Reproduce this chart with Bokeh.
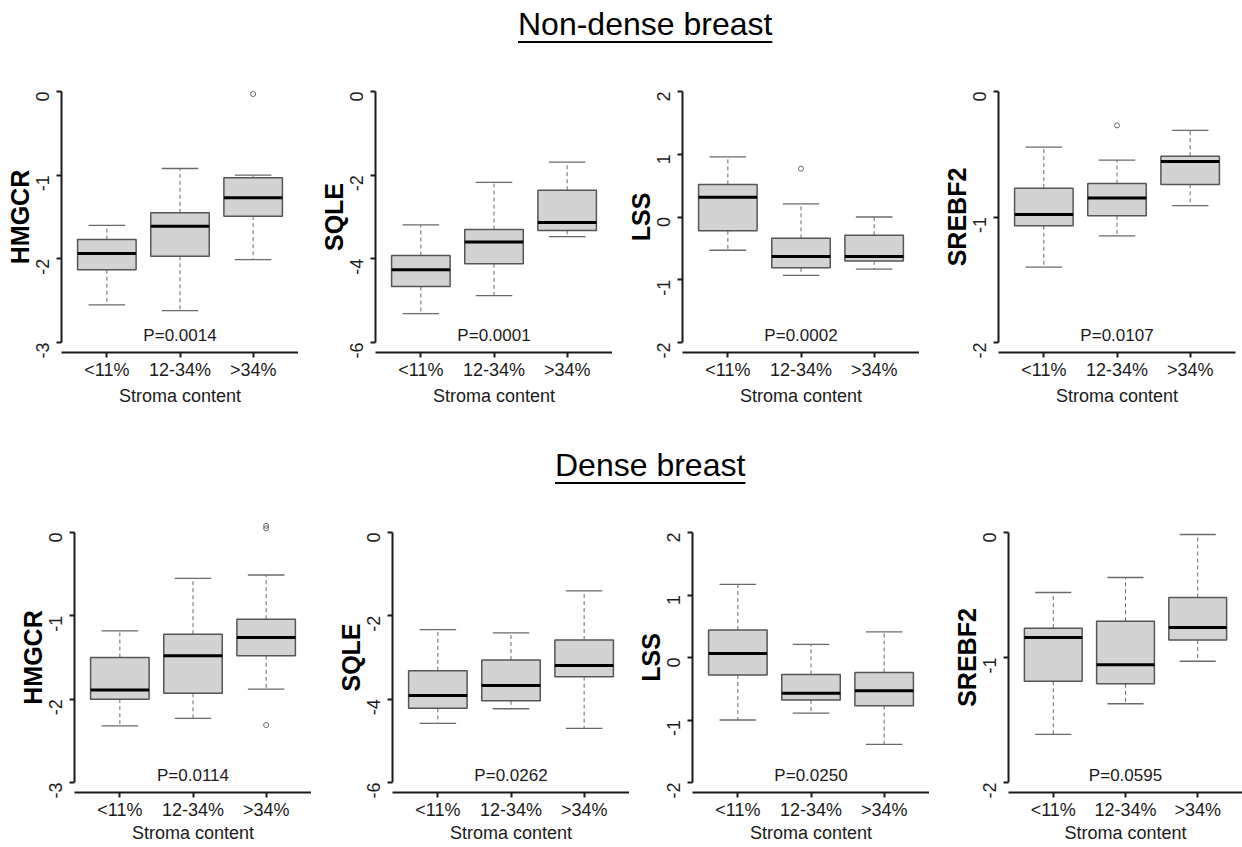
import math
from bokeh.plotting import figure
from bokeh.models import Range1d, FixedTicker, Div
from bokeh.layouts import row, column
from bokeh.embed import file_html
from bokeh.resources import INLINE
from bokeh.core.properties import value

# ---------------- data ----------------
categories = ["<11%", "12-34%", ">34%"]
genes = ["HMGCR", "SQLE", "LSS", "SREBF2"]
titles = ["Non-dense breast", "Dense breast"]
x_label = "Stroma content"

# y-axis ticks per gene
yticks_hmgcr = [-3, -2, -1, 0]
yticks_sqle = [-6, -4, -2, 0]
yticks_lss = [-2, -1, 0, 1, 2]
yticks_srebf2 = [-2, -1, 0]

# box statistics per category: [lower whisker, Q1, median, Q3, upper whisker]
nd_hmgcr_box = [[-2.55, -2.13, -1.935, -1.77, -1.60],
                [-2.62, -1.97, -1.61, -1.45, -0.92],
                [-2.01, -1.49, -1.27, -1.03, -1.00]]
nd_hmgcr_out_cat = [">34%"]
nd_hmgcr_out_val = [-0.03]

nd_sqle_box = [[-5.31, -4.66, -4.26, -3.92, -3.19],
               [-4.88, -4.12, -3.60, -3.30, -2.17],
               [-3.47, -3.32, -3.13, -2.36, -1.69]]
nd_sqle_out_cat = []
nd_sqle_out_val = []

nd_lss_box = [[-0.53, -0.22, 0.315, 0.52, 0.96],
              [-0.93, -0.81, -0.63, -0.34, 0.21],
              [-0.83, -0.70, -0.63, -0.29, 0.00]]
nd_lss_out_cat = ["12-34%"]
nd_lss_out_val = [0.77]

nd_srebf2_box = [[-1.40, -1.07, -0.98, -0.77, -0.443],
                 [-1.15, -0.99, -0.848, -0.733, -0.547],
                 [-0.91, -0.74, -0.557, -0.515, -0.31]]
nd_srebf2_out_cat = ["12-34%"]
nd_srebf2_out_val = [-0.27]

d_hmgcr_box = [[-2.32, -2.00, -1.89, -1.50, -1.18],
               [-2.23, -1.93, -1.48, -1.22, -0.55],
               [-1.88, -1.48, -1.26, -1.04, -0.51]]
d_hmgcr_out_cat = [">34%", ">34%", ">34%"]
d_hmgcr_out_val = [0.08, 0.05, -2.31]

d_sqle_box = [[-4.58, -4.22, -3.91, -3.32, -2.33],
              [-4.23, -4.04, -3.67, -3.06, -2.41],
              [-4.70, -3.46, -3.19, -2.58, -1.40]]
d_sqle_out_cat = []
d_sqle_out_val = []

d_lss_box = [[-1.00, -0.28, 0.064, 0.44, 1.17],
             [-0.89, -0.68, -0.57, -0.27, 0.21],
             [-1.39, -0.77, -0.53, -0.24, 0.41]]
d_lss_out_cat = []
d_lss_out_val = []

d_srebf2_box = [[-1.615, -1.19, -0.84, -0.765, -0.48],
                [-1.37, -1.21, -1.057, -0.71, -0.36],
                [-1.03, -0.86, -0.76, -0.52, -0.016]]
d_srebf2_out_cat = []
d_srebf2_out_val = []

nd_pvals = ["0.0014", "0.0001", "0.0002", "0.0107"]
d_pvals = ["0.0114", "0.0262", "0.0250", "0.0595"]

# ---------------- styling ----------------
FONT = "Liberation Sans"
BOX_FILL = "#D3D3D3"
BOX_LINE = "#555555"
WHISK = "#6A6A6A"
AXIS = "#1A1A1A"


def make_panel(gene, box, out_cat, out_val, yticks, pval,
               frame_w, frame_h, left, right, top, bottom, xlab_standoff):
    n = len(categories)
    xs = list(range(1, n + 1))
    lo, hi = min(yticks), max(yticks)
    span = hi - lo
    p = figure(frame_width=frame_w, frame_height=frame_h,
               min_border_left=left, min_border_right=right,
               min_border_top=top, min_border_bottom=bottom,
               x_range=Range1d(0.5 - 0.04 * n, n + 0.5 + 0.04 * n),
               y_range=Range1d(lo - 0.04 * span, hi + 0.04 * span),
               output_backend="svg", toolbar_location=None)
    p.outline_line_color = None
    p.xgrid.visible = False
    p.ygrid.visible = False
    p.background_fill_color = "white"
    p.border_fill_color = "white"

    lw = [b[0] for b in box]
    q1 = [b[1] for b in box]
    md = [b[2] for b in box]
    q3 = [b[3] for b in box]
    uw = [b[4] for b in box]
    hb = 0.4
    hc = 0.25

    # whiskers
    p.segment(x0=xs, x1=xs, y0=q3, y1=uw, line_color=WHISK, line_width=1, line_dash="4 3")
    p.segment(x0=xs, x1=xs, y0=q1, y1=lw, line_color=WHISK, line_width=1, line_dash="4 3")
    p.segment(x0=[x - hc for x in xs], x1=[x + hc for x in xs], y0=uw, y1=uw,
              line_color=WHISK, line_width=1.3)
    p.segment(x0=[x - hc for x in xs], x1=[x + hc for x in xs], y0=lw, y1=lw,
              line_color=WHISK, line_width=1.3)
    # boxes
    p.quad(left=[x - hb for x in xs], right=[x + hb for x in xs], bottom=q1, top=q3,
           fill_color=BOX_FILL, line_color=BOX_LINE, line_width=1.5)
    # medians
    p.segment(x0=[x - hb for x in xs], x1=[x + hb for x in xs], y0=md, y1=md,
              line_color="black", line_width=3)
    # outliers
    if out_val:
        ox = [categories.index(c) + 1 for c in out_cat]
        p.scatter(x=ox, y=out_val, marker="circle", size=5, fill_color=None,
                  line_color=WHISK, line_width=1)
    # p-value
    p.text(x=[(n + 1) / 2], y=[lo + 0.028 * span], text=["P=" + pval],
           text_align="center", text_baseline="middle", text_font=value(FONT),
           text_font_size="17px", text_color="#1A1A1A")

    # x axis
    xa = p.xaxis[0]
    xa.ticker = FixedTicker(ticks=xs)
    xa.major_label_overrides = {x: c for x, c in zip(xs, categories)}
    xa.axis_label = x_label
    xa.axis_label_text_font = FONT
    xa.axis_label_text_font_size = "18px"
    xa.axis_label_text_font_style = "normal"
    xa.axis_label_text_color = "#1A1A1A"
    xa.axis_label_standoff = xlab_standoff
    xa.major_label_text_font = FONT
    xa.major_label_text_font_size = "18px"
    xa.major_label_text_color = "#1A1A1A"
    xa.major_label_standoff = 2

    # y axis
    ya = p.yaxis[0]
    ya.ticker = FixedTicker(ticks=yticks)
    ya.bounds = (lo, hi)
    ya.major_label_overrides = {t: str(t) for t in yticks}
    ya.major_label_orientation = math.pi / 2
    ya.major_label_text_font = FONT
    ya.major_label_text_font_size = "18px"
    ya.major_label_text_color = "#1A1A1A"
    ya.major_label_standoff = 14
    ya.axis_label = gene
    ya.axis_label_text_font = FONT
    ya.axis_label_text_font_size = "25px"
    ya.axis_label_text_font_style = "bold"
    ya.axis_label_text_color = "black"
    ya.axis_label_standoff = -7

    for ax in (xa, ya):
        ax.axis_line_width = 2
        ax.axis_line_color = AXIS
        ax.major_tick_line_width = 2
        ax.major_tick_line_color = AXIS
        ax.major_tick_out = 5
        ax.major_tick_in = 0
        ax.minor_tick_line_color = None
    return p


def title_div(text, height, pad_top, pad_left):
    html = ('<div style="margin:0;padding-top:%dpx;padding-left:%dpx;'
            'font-family:\'Liberation Sans\',Arial,sans-serif;font-size:32px;'
            'line-height:36px;white-space:nowrap;color:#000;">'
            '<span style="text-decoration:underline;text-underline-offset:6px;'
            'text-decoration-thickness:2px;">%s</span></div>') % (pad_top, pad_left, text)
    return Div(text=html, width=1242, height=height, margin=(0, 0, 0, 0))


nd_sets = [
    (nd_hmgcr_box, nd_hmgcr_out_cat, nd_hmgcr_out_val, yticks_hmgcr),
    (nd_sqle_box, nd_sqle_out_cat, nd_sqle_out_val, yticks_sqle),
    (nd_lss_box, nd_lss_out_cat, nd_lss_out_val, yticks_lss),
    (nd_srebf2_box, nd_srebf2_out_cat, nd_srebf2_out_val, yticks_srebf2),
]
d_sets = [
    (d_hmgcr_box, d_hmgcr_out_cat, d_hmgcr_out_val, yticks_hmgcr),
    (d_sqle_box, d_sqle_out_cat, d_sqle_out_val, yticks_sqle),
    (d_lss_box, d_lss_out_cat, d_lss_out_val, yticks_lss),
    (d_srebf2_box, d_srebf2_out_cat, d_srebf2_out_val, yticks_srebf2),
]

# layout geometry (frame width, left border, right border)
row1_geo = [(237, 61, 0), (237, 77, 0), (237, 70, 0), (237, 79, 7)]
row2_geo = [(237, 74, 0), (237, 81, 0), (237, 63, 0), (234, 79, 0)]

row1 = []
for g, (s, geo, pv) in enumerate(zip(nd_sets, row1_geo, nd_pvals)):
    row1.append(make_panel(genes[g], s[0], s[1], s[2], s[3], pv,
                           geo[0], 271, geo[1], geo[2], 24, 56, 3))
row2 = []
for g, (s, geo, pv) in enumerate(zip(d_sets, row2_geo, d_pvals)):
    row2.append(make_panel(genes[g], s[0], s[1], s[2], s[3], pv,
                           geo[0], 270, geo[1], geo[2], 24, 52, 0))

for p in row1 + row2:
    p.margin = (0, 0, 0, 0)

layout = column(
    title_div(titles[0], 57, 6, 518),
    row(*row1, spacing=0),
    title_div(titles[1], 90, 39, 555),
    row(*row2, spacing=0),
    spacing=0,
)

open("out.html", "w").write(file_html(layout, INLINE))
